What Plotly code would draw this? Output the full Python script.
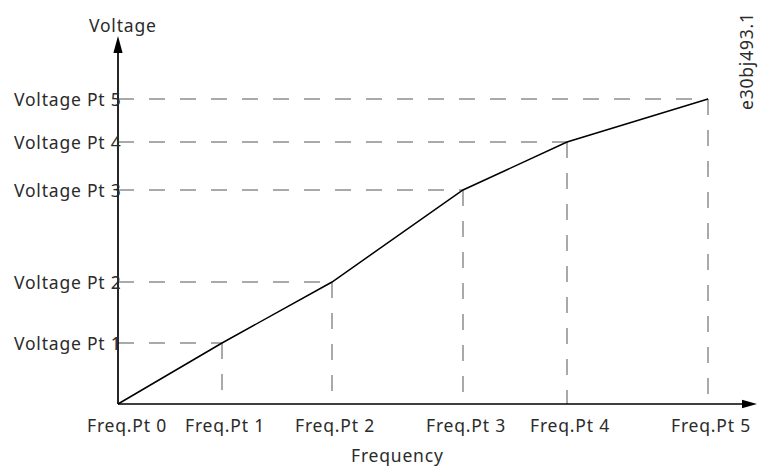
import plotly.graph_objects as go

# V/f characteristic: breakpoints of the voltage/frequency curve
freq_pts = [0, 104, 214, 345, 449, 590]
volt_pts = [0, 61, 122, 214, 262, 305]
freq_labels = ["Freq.Pt 0", "Freq.Pt 1", "Freq.Pt 2", "Freq.Pt 3", "Freq.Pt 4", "Freq.Pt 5"]
volt_labels = ["Voltage Pt 1", "Voltage Pt 2", "Voltage Pt 3", "Voltage Pt 4", "Voltage Pt 5"]

W, H = 758, 466
OX, OY = 118, 62        # origin offset from the left / bottom edge, in px
# axis ranges span the full canvas so that 1 unit = 1 px
X_RANGE = [-OX, W - OX]
Y_RANGE = [-OY, H - OY]

FONT = dict(family="Noto Sans, Open Sans, sans-serif", size=17.5, color="#2b2b2b")
GUIDE = dict(color="#555555", width=1, dash="16px,15px")
AXIS = dict(color="#000000", width=1.7)


def spaced(s):
    """Label text with the slightly open tracking of the drawing."""
    return f'<span style="letter-spacing:0.8px">{s}</span>'


fig = go.Figure()

# the V/f curve
fig.add_trace(go.Scatter(
    x=freq_pts, y=volt_pts, mode="lines",
    line=dict(color="#000000", width=1.5),
    hoverinfo="skip", showlegend=False,
))

shapes = []
# dashed guides from each breakpoint to both axes
for f, v in zip(freq_pts[1:], volt_pts[1:]):
    shapes.append(dict(type="line", xref="x", yref="y", x0=0, y0=v, x1=f, y1=v, line=GUIDE, layer="below"))
    shapes.append(dict(type="line", xref="x", yref="y", x0=f, y0=v, x1=f, y1=0, line=GUIDE, layer="below"))

# axes with arrowheads
y_tip, x_tip = 368, 639
shapes.append(dict(type="line", xref="x", yref="y", x0=0, y0=0, x1=0, y1=y_tip - 14, line=AXIS))
shapes.append(dict(type="line", xref="x", yref="y", x0=0, y0=0, x1=x_tip - 14, y1=0, line=AXIS))
shapes.append(dict(type="path", xref="x", yref="y",
                   path=f"M -4.6 {y_tip-17} L 4.6 {y_tip-17} L 0 {y_tip} Z",
                   fillcolor="#000000", line=dict(width=0)))
shapes.append(dict(type="path", xref="x", yref="y",
                   path=f"M {x_tip-15} -4.3 L {x_tip-15} 4.3 L {x_tip} 0 Z",
                   fillcolor="#000000", line=dict(width=0)))

annotations = []
for lab, v in zip(volt_labels, volt_pts[1:]):
    annotations.append(dict(x=6, y=v, xref="x", yref="y", text=spaced(lab), showarrow=False,
                            xanchor="right", yanchor="middle", font=FONT))
for lab, f in zip(freq_labels, freq_pts):
    annotations.append(dict(x=f + (9 if f == 0 else 3), y=-21, xref="x", yref="y", text=spaced(lab),
                            showarrow=False, xanchor="center", yanchor="middle", font=FONT))
annotations.append(dict(x=5, y=379, xref="x", yref="y", text=spaced("Voltage"), showarrow=False,
                        xanchor="center", yanchor="middle", font=FONT))
annotations.append(dict(x=279, y=-51, xref="x", yref="y", text=spaced("Frequency"), showarrow=False,
                        xanchor="center", yanchor="middle", font=FONT))
annotations.append(dict(x=628, y=343, xref="x", yref="y", text=spaced("e30bj493.1"), showarrow=False,
                        textangle=-90, xanchor="center", yanchor="middle", font=FONT))

fig.update_layout(
    width=W, height=H,
    margin=dict(l=0, r=0, t=0, b=0),
    paper_bgcolor="white", plot_bgcolor="white",
    xaxis=dict(range=X_RANGE, visible=False, fixedrange=True),
    yaxis=dict(range=Y_RANGE, visible=False, fixedrange=True),
    shapes=shapes, annotations=annotations,
    showlegend=False,
)

fig.write_html("out.html")
